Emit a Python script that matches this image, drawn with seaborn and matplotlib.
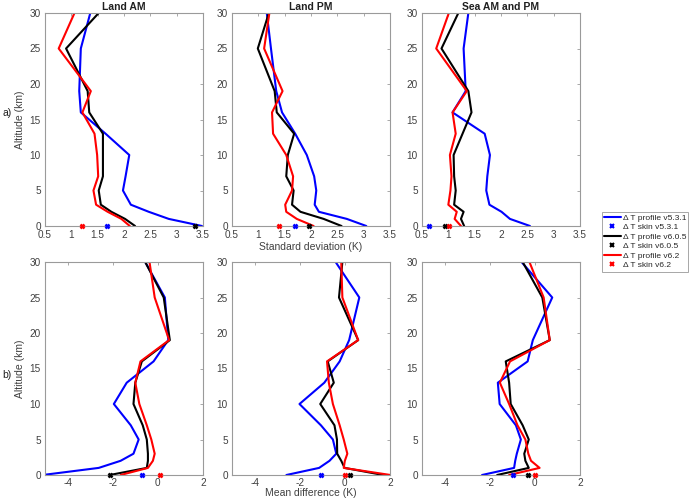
import numpy as np
import pandas as pd
import seaborn as sns
import matplotlib
matplotlib.use("Agg")
import matplotlib.pyplot as plt
from matplotlib.ticker import FormatStrFormatter

sns.set_style("white")
plt.rcParams['font.family'] = ['Liberation Sans', 'DejaVu Sans']
plt.rcParams['axes.unicode_minus'] = False

# altitude levels (km) of the profiles
alt = [0, 1, 2, 3, 5, 7, 10, 13, 16, 19, 25, 30]

titles = ["Land AM", "Land PM", "Sea AM and PM"]
versions = ["v5.3.1", "v6.0.5", "v6.2"]
colors = ["#0000ff", "#000000", "#ff0000"]

# a) standard deviation (K), one list per version for each panel
std_v53 = [
    [3.48, 2.85, 2.47, 2.13, 1.98, 2.03, 2.10, 1.65, 1.18, 1.15, 1.18, 1.36],
    [3.05, 2.68, 2.15, 2.07, 2.10, 2.06, 1.92, 1.70, 1.45, 1.34, 1.24, 1.16],
    [2.55, 2.17, 2.01, 1.78, 1.72, 1.74, 1.79, 1.69, 1.08, 1.33, 1.29, 1.38],
]
std_v605 = [
    [2.21, 2.02, 1.76, 1.56, 1.52, 1.60, 1.60, 1.60, 1.34, 1.31, 0.90, 1.52],
    [2.58, 2.24, 1.80, 1.64, 1.67, 1.53, 1.56, 1.68, 1.35, 1.31, 0.99, 1.20],
    [1.30, 1.24, 1.29, 1.11, 1.14, 1.11, 1.10, 1.27, 1.44, 1.38, 0.87, 1.19],
]
std_v62 = [
    [2.11, 1.95, 1.69, 1.47, 1.42, 1.51, 1.49, 1.44, 1.21, 1.37, 0.76, 1.06],
    [2.05, 1.73, 1.53, 1.51, 1.64, 1.66, 1.53, 1.28, 1.26, 1.46, 1.11, 1.21],
    [1.24, 1.12, 1.16, 1.00, 1.04, 1.06, 1.03, 1.14, 1.08, 1.35, 0.77, 1.01],
]
std_skin = {  # v5.3.1, v6.0.5, v6.2
    "Land AM": [1.67, 3.34, 1.20],
    "Land PM": [1.69, 1.97, 1.40],
    "Sea AM and PM": [0.64, 0.94, 1.01],
}

# b) mean difference (K)
bias_v53 = [
    [-5.1, -2.62, -1.65, -1.08, -0.85, -1.20, -1.95, -1.38, -0.19, 0.46, 0.31, -0.56],
    [-2.59, -1.14, -0.68, -0.38, -0.53, -1.06, -2.01, -0.91, -0.23, 0.19, 0.64, -0.41],
    [-2.34, -0.92, -0.87, -0.80, -0.62, -0.84, -1.56, -1.64, -0.32, -0.09, 0.77, -0.59],
]
bias_v605 = [
    [-2.13, -0.49, -0.44, -0.44, -0.49, -0.67, -1.08, -1.00, -0.71, 0.53, 0.26, -0.56],
    [1.70, -0.01, -0.16, -0.34, -0.35, -0.46, -1.09, -0.49, -0.76, 0.59, -0.26, -0.11],
    [-1.67, -0.27, -0.42, -0.47, -0.27, -0.54, -1.07, -1.14, -1.29, 0.66, 0.33, -0.54],
]
bias_v62 = [
    [-1.65, -0.44, -0.22, -0.14, -0.29, -0.49, -0.82, -1.00, -0.77, 0.50, -0.14, -0.37],
    [2.02, -0.05, 0.00, 0.11, -0.05, -0.23, -0.53, -0.71, -0.79, 0.59, -0.11, -0.16],
    [-1.14, 0.21, -0.17, -0.29, -0.42, -0.77, -1.14, -1.55, -1.10, 0.66, 0.39, -0.24],
]
bias_skin = {
    "Land AM": [-0.71, -2.10, 0.11],
    "Land PM": [-1.05, 0.25, 0.02],
    "Sea AM and PM": [-0.95, -0.32, 0.00],
}

fig = plt.figure(figsize=(6.9, 5.0), dpi=100)

lefts = [45 / 690, 232 / 690, 422 / 690]
w = 158 / 690
h = 213 / 500
bottoms = [1 - 226 / 500, 1 - 475 / 500]

tick_col = "#404040"
spine_col = "#9a9a9a"


def draw_panel(ax, profiles, skins, xlim, xticks):
    for prof, skin, col in zip(profiles, skins, colors):
        df = pd.DataFrame({"val": prof, "alt": alt})
        sns.lineplot(data=df, x="val", y="alt", sort=False, estimator=None,
                     color=col, lw=1.5, ax=ax)
        ax.plot([skin], [0], marker="x", ms=3.5, mew=1.8, color=col,
                ls="none", clip_on=False, zorder=5)
    ax.set_xlim(*xlim)
    ax.set_ylim(0, 30)
    ax.set_xticks(xticks)
    ax.set_yticks(range(0, 31, 5))
    ax.xaxis.set_major_formatter(FormatStrFormatter("%g"))
    ax.tick_params(direction="in", top=True, right=True, length=2.5,
                   width=0.6, labelsize=7.2, colors=spine_col,
                   labelcolor=tick_col, pad=3)
    for s in ax.spines.values():
        s.set_color(spine_col)
        s.set_linewidth(0.8)
    ax.set_xlabel("")
    ax.set_ylabel("")


top_axes = []
bot_axes = []
for i, t in enumerate(titles):
    ax = fig.add_axes([lefts[i], bottoms[0], w, h])
    draw_panel(ax, [std_v53[i], std_v605[i], std_v62[i]], std_skin[t],
               (0.5, 3.5), [0.5, 1, 1.5, 2, 2.5, 3, 3.5])
    ax.set_title(t, fontsize=7.5, fontweight="bold", pad=2, color="#202020")
    top_axes.append(ax)

    ax2 = fig.add_axes([lefts[i], bottoms[1], w, h])
    draw_panel(ax2, [bias_v53[i], bias_v605[i], bias_v62[i]], bias_skin[t],
               (-5, 2), [-4, -2, 0, 2])
    ax2.tick_params(axis="x", pad=2)
    bot_axes.append(ax2)

for ax in (top_axes[0], bot_axes[0]):
    ax.set_ylabel("Altitude (km)", fontsize=7.5, color=tick_col, labelpad=3)
top_axes[1].set_xlabel("Standard deviation (K)", fontsize=7.5, color=tick_col, labelpad=1)
bot_axes[1].set_xlabel("Mean difference (K)", fontsize=7.5, color=tick_col, labelpad=0)

fig.text(0.004, 1 - 113 / 500, "a)", fontsize=7.5, color="#202020", va="center")
fig.text(0.004, 1 - 375 / 500, "b)", fontsize=7.5, color="#202020", va="center")

# legend
handles = []
labels = []
for v, col in zip(versions, colors):
    handles.append(plt.Line2D([], [], color=col, lw=1.5))
    labels.append("Δ T profile " + v)
    handles.append(plt.Line2D([], [], color=col, marker="x", ls="none",
                              ms=3, mew=1.5))
    labels.append("Δ T skin " + v)
leg = fig.legend(handles, labels, loc="upper left",
                 bbox_to_anchor=(602 / 690, 1 - 212 / 500),
                 fontsize=6.0, frameon=True, fancybox=False,
                 handlelength=2.0, handletextpad=0.25, labelspacing=0.2,
                 borderpad=0.25, borderaxespad=0)
leg.get_frame().set_edgecolor("#909090")
leg.get_frame().set_linewidth(0.7)

fig.savefig("out.png", dpi=100)
